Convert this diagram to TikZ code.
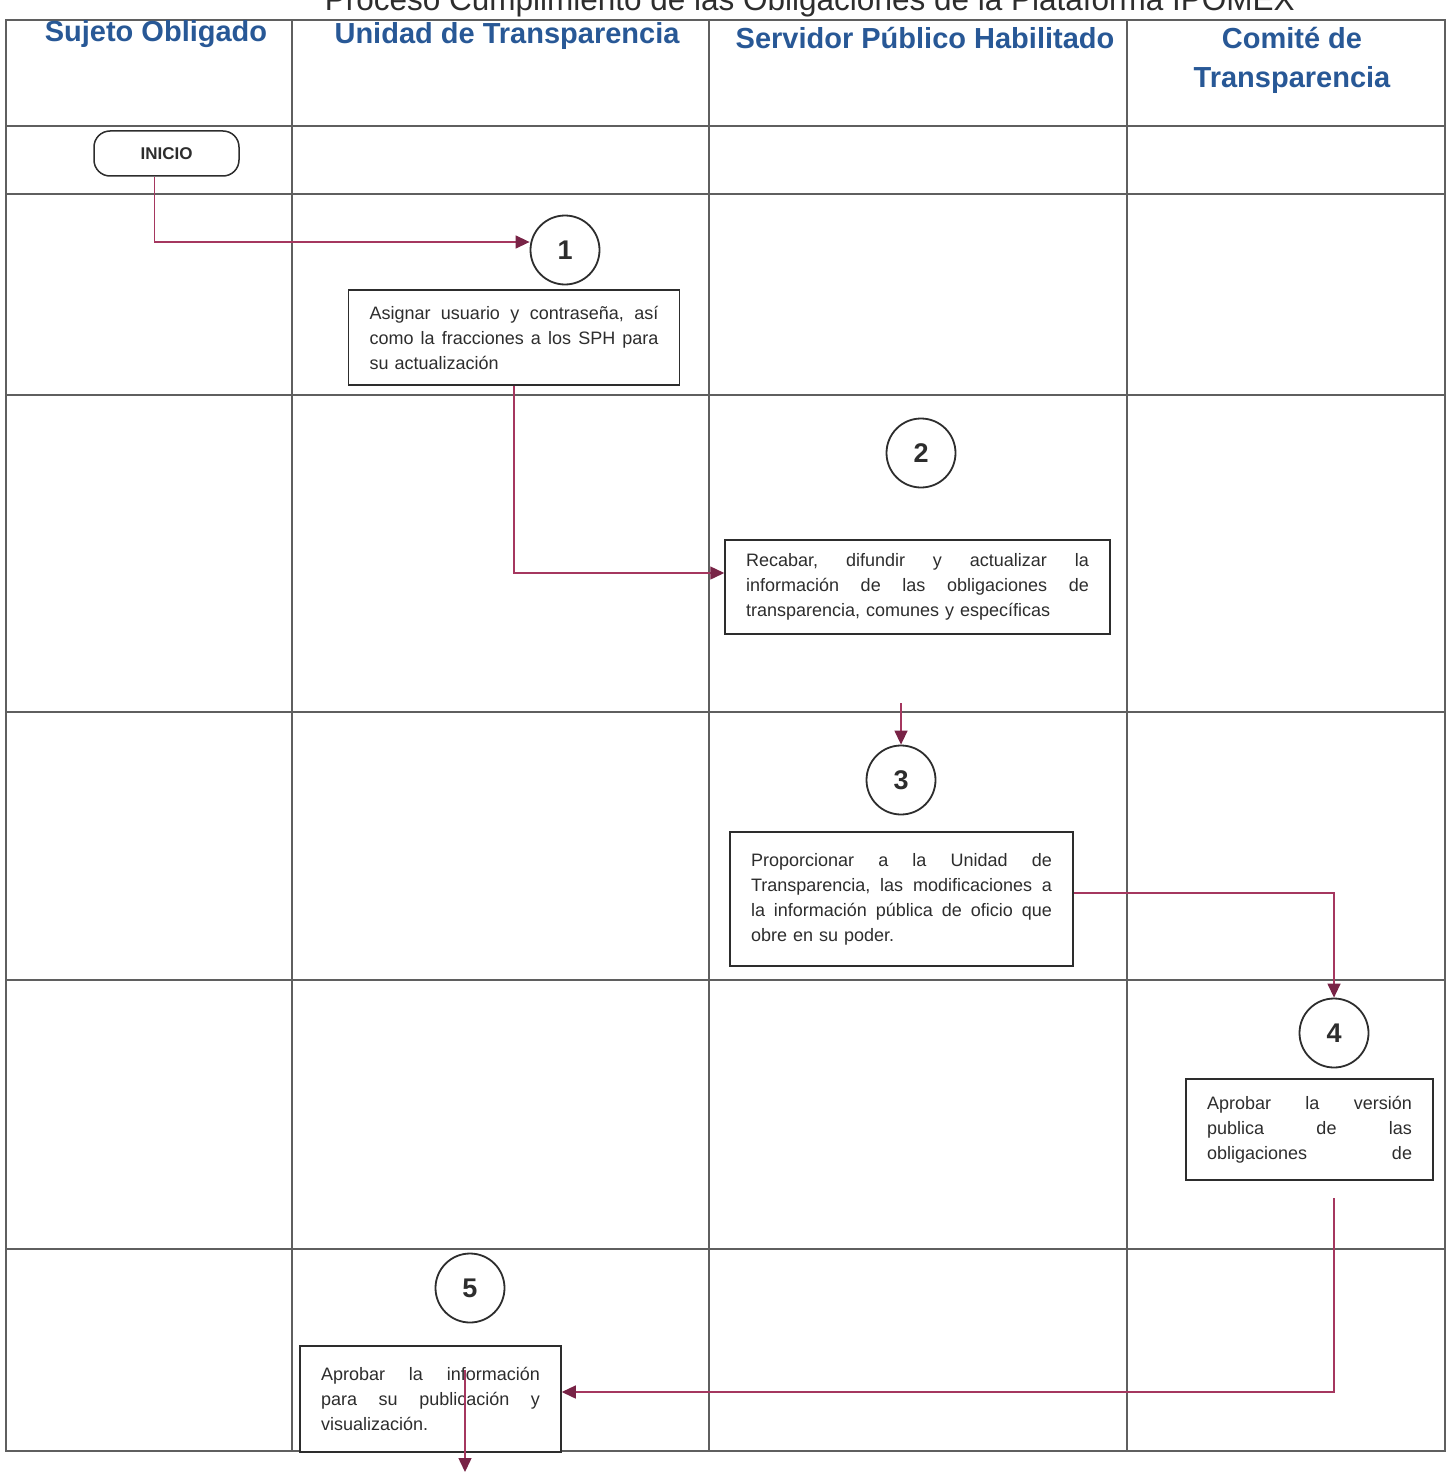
\documentclass[tikz,border=0pt]{standalone}
\usepackage{fontspec}
\setmainfont{Liberation Sans}
\usetikzlibrary{arrows.meta}
\definecolor{hdrblue}{RGB}{40,88,150}
\definecolor{flowcol}{RGB}{165,55,95}
\definecolor{tipcol}{RGB}{120,35,70}
\definecolor{inkgray}{RGB}{45,45,45}
\definecolor{gridgray}{RGB}{95,95,95}
\newcommand{\jline}[2]{\makebox[#1][l]{#2}}
\begin{document}
\begin{tikzpicture}[x=1pt,y=-1pt,
  gridline/.style={draw=gridgray, line width=1.2pt},
  titletext/.style={text=inkgray, font=\fontsize{31.5}{36}\selectfont, inner sep=0pt},
  header/.style={text=hdrblue, font=\bfseries\fontsize{29}{39}\selectfont, align=center, inner sep=0pt},
  startbox/.style={draw=inkgray, line width=1.5pt, fill=white, rounded corners=16pt, minimum width=145pt, minimum height=45pt, inner sep=0pt, text=inkgray, font=\bfseries\fontsize{17}{20}\selectfont},
  stepnum/.style={circle, draw=inkgray, line width=1.8pt, minimum size=69pt, inner sep=0pt, fill=white, text=inkgray, font=\bfseries\fontsize{27}{30}\selectfont},
  actbox/.style={draw=inkgray, line width=1.5pt, fill=white, inner xsep=21pt, inner ysep=0pt, align=left, text=inkgray, font=\fontsize{18}{25}\selectfont},
  flow/.style={draw=flowcol, line width=1.4pt, -{Triangle[length=14pt,width=13pt,color=tipcol]}},
]
\useasboundingbox (0,0) rectangle (1453,1474);

% title (cut off at the top edge, as in the scan)
\node[titletext, anchor=base east] (title) at (1295,11) {Proceso Cumplimiento de las Obligaciones de la Plataforma IPOMEX};

% swimlane grid
\draw[gridline] (6,20) rectangle (1445,1451);
\foreach \x in {292,709,1127} \draw[gridline] (\x,20) -- (\x,1451);
\foreach \y in {126,194,395,712,980,1249} \draw[gridline] (6,\y) -- (1445,\y);

% headers
\node[header] (h1) at (156,34) {Sujeto Obligado};
\node[header] (h2) at (507,36) {Unidad de Transparencia};
\node[header] (h3) at (925,38) {Servidor Público Habilitado};
\node[header] (h4) at (1292,60) {Comité de\\Transparencia};

% start
\node[startbox] (inicio) at (166.5,153.5) {INICIO};

% step circles
\node[stepnum] (c1) at (565,250) {1};
\node[stepnum] (c2) at (921,453) {2};
\node[stepnum] (c3) at (901,780) {3};
\node[stepnum] (c4) at (1334,1033) {4};
\node[stepnum] (c5) at (470,1288) {5};

% activity boxes
\node[actbox, text width=289pt, minimum width=331pt, minimum height=95pt] (b1) at (514,337.5)
  {\jline{289pt}{Asignar\hfill usuario\hfill y\hfill contraseña,\hfill así}\\
   \jline{289pt}{como\hfill la\hfill fracciones\hfill a\hfill los\hfill SPH\hfill para}\\
   su actualización};
\node[actbox, text width=343pt, minimum width=385pt, minimum height=94pt] (b2) at (917.5,587)
  {\jline{343pt}{Recabar,\hfill difundir\hfill y\hfill actualizar\hfill la}\\
   \jline{343pt}{información\hfill de\hfill las\hfill obligaciones\hfill de}\\
   transparencia, comunes y específicas};
\node[actbox, text width=301pt, minimum width=343pt, minimum height=134pt] (b3) at (901.5,899)
  {\jline{301pt}{Proporcionar\hfill a\hfill la\hfill Unidad\hfill de}\\
   \jline{301pt}{Transparencia,\hfill las\hfill modificaciones\hfill a}\\
   \jline{301pt}{la\hfill información\hfill pública\hfill de\hfill oficio\hfill que}\\
   obre en su poder.};
\node[actbox, text width=205pt, minimum width=247pt, minimum height=101pt] (b4) at (1309.5,1129.5)
  {\jline{205pt}{Aprobar\hfill la\hfill versión}\\
   \jline{205pt}{publica\hfill de\hfill las}\\
   \jline{205pt}{obligaciones\hfill de}};
\node[actbox, text width=219pt, minimum width=261pt, minimum height=106pt] (b5) at (430.5,1399)
  {\jline{219pt}{Aprobar\hfill la\hfill información}\\
   \jline{219pt}{para\hfill su\hfill publicación\hfill y}\\
   visualización.};

% free connector ends
\coordinate (a3s) at (901,703);
\coordinate (a4s) at (1334,1198);
\coordinate (a5s) at (465,1370);
\coordinate (a5e) at (465,1472);

% connectors
\draw[flow] ([xshift=-12pt]inicio.south) |- ([yshift=8pt]c1.west);
\draw[flow] (b1.south) |- ([yshift=14pt]b2.west);
\draw[flow] (a3s) -- (c3.north);
\draw[flow] ([yshift=6pt]b3.east) -| (c4.north);
\draw[flow] (a4s) |- ([yshift=7pt]b5.east);
\draw[flow] (a5s) -- (a5e);
\end{tikzpicture}
\end{document}
